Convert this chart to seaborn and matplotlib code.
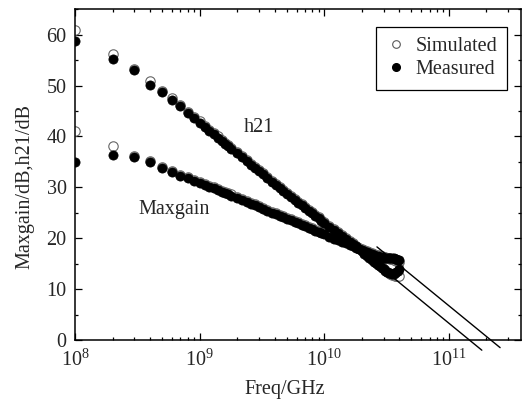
import numpy as np
import pandas as pd
import matplotlib as mpl
mpl.use('Agg')
import matplotlib.pyplot as plt
from matplotlib.lines import Line2D
import seaborn as sns

# frequency points in GHz
freq_ghz = [0.1, 0.2, 0.3, 0.4, 0.5, 0.6, 0.7, 0.8, 0.9, 1.0,
            1.1, 1.2, 1.3, 1.4, 1.5, 1.6, 1.7, 1.8, 2.0, 2.2,
            2.4, 2.6, 2.8, 3.0, 3.2, 3.5, 3.8, 4.1, 4.4, 4.7,
            5.0, 5.4, 5.8, 6.2, 6.6, 7.0, 7.5, 8.0, 8.5, 9.0,
            9.5, 10, 11, 12, 13, 14, 15, 16, 17, 18,
            19, 20, 21, 22, 23, 24, 25, 26, 27, 28,
            29, 30, 31, 32, 33, 34, 35, 36, 37, 38,
            39, 40]

h21_meas = [58.7, 55.3, 53.0, 50.2, 48.7, 47.2, 45.9, 44.6, 43.6, 42.7,
            41.9, 41.1, 40.4, 39.8, 39.2, 38.6, 38.1, 37.6, 36.7, 35.9,
            35.1, 34.4, 33.8, 33.2, 32.6, 31.8, 31.1, 30.4, 29.8, 29.3,
            28.7, 28.1, 27.5, 27.0, 26.5, 26.0, 25.4, 24.9, 24.4, 23.9,
            23.4, 23.0, 22.3, 21.7, 21.0, 20.4, 19.8, 19.3, 18.8, 18.4,
            17.9, 17.4, 17.0, 16.6, 16.2, 15.8, 15.4, 15.1, 14.8, 14.5,
            14.2, 13.9, 13.6, 13.4, 13.2, 13.1, 13.0, 13.0, 13.1, 13.3,
            13.6, 14.0]

h21_sim = [61.0, 56.2, 53.3, 51.0, 49.0, 47.5, 46.1, 44.9, 43.9, 43.0,
           42.1, 41.3, 40.6, 40.0, 39.4, 38.8, 38.3, 37.8, 36.9, 36.1,
           35.3, 34.6, 34.0, 33.4, 32.8, 32.0, 31.3, 30.6, 30.0, 29.5,
           28.9, 28.3, 27.7, 27.2, 26.7, 26.2, 25.6, 25.1, 24.6, 24.1,
           23.6, 23.2, 22.5, 21.9, 21.2, 20.6, 20.0, 19.5, 19.0, 18.5,
           18.0, 17.6, 17.1, 16.7, 16.3, 16.0, 15.6, 15.2, 14.9, 14.6,
           14.3, 14.0, 13.7, 13.4, 13.2, 13.0, 12.8, 12.7, 12.6, 12.5,
           12.5, 12.6]

mg_meas = [34.9, 36.3, 36.0, 34.9, 33.9, 33.1, 32.3, 31.8, 31.3, 30.9,
           30.5, 30.1, 29.8, 29.4, 29.1, 28.9, 28.6, 28.4, 27.9, 27.5,
           27.1, 26.8, 26.5, 26.1, 25.8, 25.4, 25.0, 24.7, 24.4, 24.1,
           23.8, 23.5, 23.2, 22.9, 22.6, 22.4, 22.1, 21.8, 21.5, 21.3,
           21.0, 20.8, 20.3, 19.9, 19.6, 19.3, 19.0, 18.7, 18.4, 18.1,
           17.9, 17.7, 17.5, 17.3, 17.1, 16.9, 16.7, 16.6, 16.5, 16.4,
           16.3, 16.2, 16.1, 16.1, 16.1, 16.2, 16.2, 16.1, 16.0, 15.9,
           15.8, 15.7]

mg_sim = [41.1, 38.1, 36.2, 35.2, 34.1, 33.3, 32.5, 32.0, 31.5, 31.1,
          30.7, 30.3, 30.0, 29.6, 29.3, 29.1, 28.8, 28.6, 28.1, 27.7,
          27.3, 27.0, 26.7, 26.3, 26.0, 25.6, 25.2, 24.9, 24.6, 24.3,
          24.0, 23.7, 23.4, 23.1, 22.8, 22.6, 22.3, 22.0, 21.7, 21.5,
          21.2, 21.0, 20.5, 20.1, 19.8, 19.5, 19.2, 18.9, 18.6, 18.3,
          18.1, 17.9, 17.7, 17.5, 17.3, 17.1, 16.9, 16.8, 16.7, 16.6,
          16.5, 16.4, 16.3, 16.2, 16.1, 16.0, 15.9, 15.8, 15.7, 15.6,
          15.5, 15.4]

# -20 dB/dec extrapolation lines (Hz, dB)
fmax_line_f = [2.65e10, 2.58e11]
fmax_line_db = [18.3, -1.5]
ft_line_f = [3.0e10, 1.84e11]
ft_line_db = [13.8, -2.0]

sns.set_theme(style='ticks')
plt.rcParams['font.family'] = ['Liberation Serif', 'DejaVu Serif']
plt.rcParams['mathtext.fontset'] = 'stix'
plt.rcParams['xtick.direction'] = 'in'
plt.rcParams['ytick.direction'] = 'in'

freq_hz = np.array(freq_ghz) * 1e9
sim = pd.DataFrame({'f': np.concatenate([freq_hz, freq_hz]),
                    'db': h21_sim + mg_sim})
meas = pd.DataFrame({'f': np.concatenate([freq_hz, freq_hz]),
                     'db': h21_meas + mg_meas})

fig = plt.figure(figsize=(5.26, 4.01), dpi=100)
ax = fig.add_axes([0.1426, 0.1521, 0.848, 0.8247])

sns.scatterplot(data=sim, x='f', y='db', ax=ax, marker='o', s=46,
                color='white', edgecolor='0.4', linewidth=0.8, legend=False, zorder=2)
sns.scatterplot(data=meas, x='f', y='db', ax=ax, marker='o', s=44,
                color='black', edgecolor='black', linewidth=0.5, legend=False, zorder=3)

ax.plot(fmax_line_f, fmax_line_db, color='black', lw=1.0, clip_on=False, zorder=4)
ax.plot(ft_line_f, ft_line_db, color='black', lw=1.0, clip_on=False, zorder=4)

ax.set_xscale('log')
ax.set_xlim(1e8, 3.8e11)
ax.set_ylim(0, 65)
ax.xaxis.set_major_locator(mpl.ticker.LogLocator(base=10, numticks=10))
ax.xaxis.set_minor_locator(mpl.ticker.LogLocator(base=10, subs=np.arange(2, 10), numticks=20))
ax.xaxis.set_minor_formatter(mpl.ticker.NullFormatter())
ax.yaxis.set_major_locator(mpl.ticker.MultipleLocator(10))
ax.yaxis.set_minor_locator(mpl.ticker.MultipleLocator(5))

ax.tick_params(which='both', direction='in', top=True, right=True, color='black', width=0.9)
ax.tick_params(which='major', length=5, labelsize=14.5, pad=6)
ax.tick_params(which='minor', length=2.5)
ax.tick_params(axis='x', which='major', pad=7)
for s in ax.spines.values():
    s.set_color('black')
    s.set_linewidth(1.1)

ax.set_xlabel('Freq/GHz', fontsize=14.5)
ax.xaxis.set_label_coords((285 - 75) / 446, -0.12)
ax.set_ylabel('Maxgain/dB,h21/dB', fontsize=14.5)
ax.yaxis.set_label_coords(-0.092, 0.465)

ax.text(2.97e9, 41.7, 'h21', fontsize=14.5, ha='center', va='center')
ax.text(6.2e8, 25.6, 'Maxgain', fontsize=14.5, ha='center', va='center')

handles = [Line2D([0], [0], linestyle='none', marker='o', markersize=5.5,
                  markerfacecolor='white', markeredgecolor='0.35', markeredgewidth=0.8,
                  label='Simulated'),
           Line2D([0], [0], linestyle='none', marker='o', markersize=5.5,
                  markerfacecolor='black', markeredgecolor='black', label='Measured')]
leg = ax.legend(handles=handles, loc='upper right', bbox_to_anchor=(0.969, 0.946),
                borderaxespad=0, fontsize=14.5, frameon=True, fancybox=False,
                framealpha=1, edgecolor='black', handlelength=1.0,
                handletextpad=0.45, borderpad=0.5, labelspacing=0.2)
leg.get_frame().set_linewidth(0.9)

fig.savefig('out.png', dpi=100, facecolor='white')
